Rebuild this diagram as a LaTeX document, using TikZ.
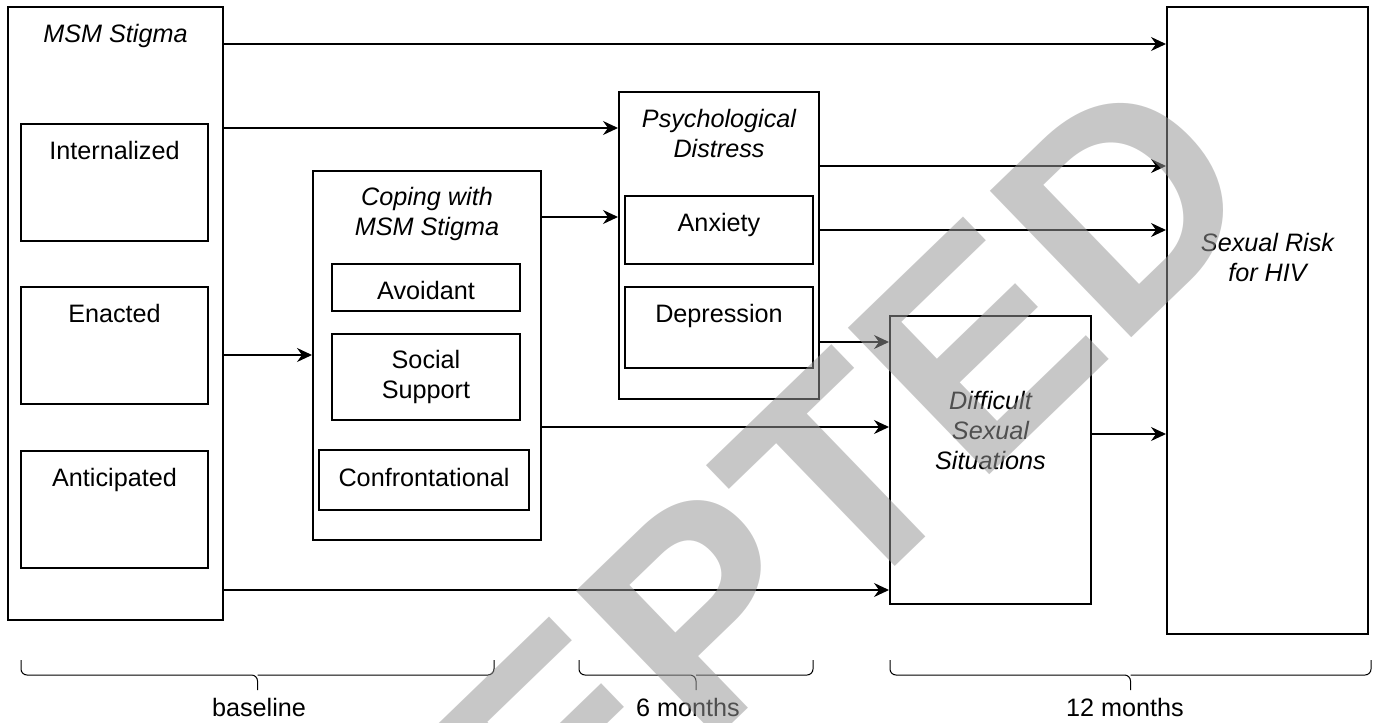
\documentclass[tikz,border=0pt]{standalone}
\usepackage{fontspec}
\setmainfont{Liberation Sans}
\usetikzlibrary{arrows.meta,positioning}

\definecolor{markgray}{RGB}{150,150,150}

\tikzset{
  % boxes are placed by their top left corner
  box/.style={draw, line width=1pt, inner sep=0pt, anchor=north west},
  % plain text inside a box (anchored on its last line)
  caption/.style={inner sep=0pt, anchor=base, align=center, font=\fontsize{12.6}{15}\selectfont},
  % the construct names are set in italics
  title/.style={caption, font=\fontsize{12.6}{15}\selectfont\itshape},
  arr/.style={-{Stealth[length=7.5pt,width=7pt,inset=2.5pt]}, line width=0.7pt},
  tbrace/.style={line width=0.5pt, rounded corners=3pt},
  watermark/.style={inner sep=0pt, rotate=44, text=markgray, text opacity=0.53,
    font=\fontsize{148}{148}\selectfont\bfseries}
}

\begin{document}
\begin{tikzpicture}[x=0.5pt, y=-0.5pt]
    \useasboundingbox (0,0) rectangle (1382,723);

    % baseline: MSM stigma
    \node [box, minimum width=107.5pt, minimum height=306.5pt] (msm) at (7,6) {};
    \node [title] (msm-t) at ([yshift=-18pt]msm.north) {MSM Stigma};
    \node [box, minimum width=93.5pt, minimum height=58.5pt] (intern) at (20,123) {};
    \node [caption] (intern-t) at ([yshift=-18pt]intern.north) {Internalized};
    \node [box, minimum width=93.5pt, minimum height=58.5pt] (enact) at (20,286) {};
    \node [caption] (enact-t) at ([yshift=-18pt]enact.north) {Enacted};
    \node [box, minimum width=93.5pt, minimum height=58.5pt] (antic) at (20,450) {};
    \node [caption] (antic-t) at ([yshift=-18pt]antic.north) {Anticipated};

    % baseline: coping
    \node [box, minimum width=114pt, minimum height=184.5pt] (coping) at (312,170) {};
    \node [title] (coping-t) at ([yshift=-32.5pt]coping.north) {Coping with\\MSM Stigma};
    \node [box, minimum width=94pt, minimum height=23.5pt] (avoid) at (331,263) {};
    \node [caption] (avoid-t) at ([yshift=-18pt]avoid.north) {Avoidant};
    \node [box, minimum width=94pt, minimum height=43pt] (social) at (331,333) {};
    \node [caption] (social-t) at ([yshift=-32.5pt]social.north) {Social\\Support};
    \node [box, minimum width=105pt, minimum height=30pt] (confront) at (318,449) {};
    \node [caption] (confront-t) at ([yshift=-18.5pt]confront.north) {Confrontational};

    % 6 months
    \node [box, minimum width=100pt, minimum height=153.5pt] (psych) at (618,91) {};
    \node [title] (psych-t) at ([yshift=-33pt]psych.north) {Psychological\\Distress};
    \node [box, minimum width=94pt, minimum height=34pt] (anx) at (624,195) {};
    \node [caption] (anx-t) at ([yshift=-18pt]anx.north) {Anxiety};
    \node [box, minimum width=94pt, minimum height=40.5pt] (dep) at (624,286) {};
    \node [caption] (dep-t) at ([yshift=-18pt]dep.north) {Depression};

    % 12 months
    \node [box, minimum width=100.5pt, minimum height=144pt] (diff) at (889,315) {};
    \node [title] (diff-t) at ([yshift=-77pt]diff.north) {Difficult\\Sexual\\Situations};
    \node [box, minimum width=100.5pt, minimum height=313.5pt] (risk) at (1166,6) {};
    \node [title] (risk-t) at ([yshift=-137.5pt]risk.north) {Sexual Risk\\for HIV};

    % arrow start points
    \coordinate (m1) at ([yshift=-19pt]msm.north east);
    \coordinate (m2) at ([yshift=-61pt]msm.north east);
    \coordinate (m3) at ([yshift=-174.5pt]msm.north east);
    \coordinate (m4) at ([yshift=-292pt]msm.north east);
    \coordinate (c1) at ([yshift=-23.5pt]coping.north east);
    \coordinate (c2) at ([yshift=-128.5pt]coping.north east);
    \coordinate (p1) at ([yshift=-37.5pt]psych.north east);
    \coordinate (p2) at ([yshift=-69.5pt]psych.north east);
    \coordinate (p3) at ([yshift=-125.5pt]psych.north east);
    \coordinate (d1) at ([yshift=-59.5pt]diff.north east);

    \draw[arr] (m1) -- (m1 -| risk.west);
    \draw[arr] (m2) -- (m2 -| psych.west);
    \draw[arr] (m3) -- (m3 -| coping.west);
    \draw[arr] (m4) -- (m4 -| diff.west);
    \draw[arr] (c1) -- (c1 -| psych.west);
    \draw[arr] (c2) -- (c2 -| diff.west);
    \draw[arr] (p1) -- (p1 -| risk.west);
    \draw[arr] (p2) -- (p2 -| risk.west);
    \draw[arr] (p3) -- (p3 -| diff.west);
    \draw[arr] (d1) -- (d1 -| risk.west);

    % time braces
    \draw[tbrace] (21,660) |- (257.5,675) -- (257.5,690) (494,660) |- (257.5,675);
    \draw[tbrace] (579,660) |- (696,675) -- (696,690) (813,660) |- (696,675);
    \draw[tbrace] (890,660) |- (1130.5,675) -- (1130.5,690) (1371,660) |- (1130.5,675);
    \node [caption] (base-l) at (259,716) {baseline};
    \node [caption] (six-l) at (688,716) {6 months};
    \node [caption] (twelve-l) at (1125,716) {12 months};

    % journal stamp
    \begin{scope}
    \clip (0,0) rectangle (1382,723);
    \node [watermark] (stamp) at (615,695) {ACCEPTED};
    \end{scope}
\end{tikzpicture}
\end{document}
